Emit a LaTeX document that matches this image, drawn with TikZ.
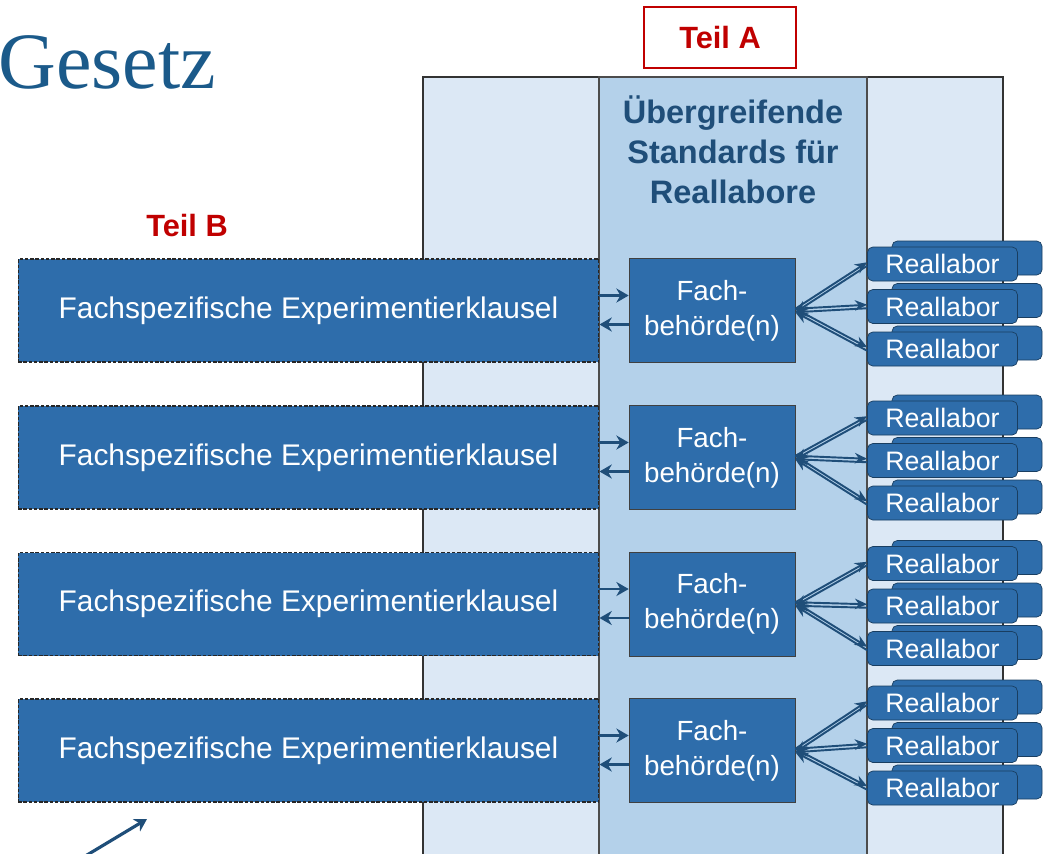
\documentclass[tikz,border=0pt]{standalone}
\usepackage{fontspec}
\setmainfont{Liberation Sans}
\newfontfamily\gesetzfont{Liberation Serif}
\usetikzlibrary{arrows.meta}

\definecolor{fachblau}{HTML}{2E6DAB}
\definecolor{dunkelblau}{HTML}{1F4E79}
\definecolor{titelblau}{HTML}{1B5A8A}
\definecolor{hellblau}{HTML}{DCE8F5}
\definecolor{mittelblau}{HTML}{B4D1EA}
\definecolor{teilrot}{HTML}{C00000}

\tikzset{
  klausel/.style={draw=black!85, dash pattern=on 2pt off 1pt, line width=0.6pt, fill=fachblau, text=white,
    minimum width=11.62cm, minimum height=2.06cm, font=\fontsize{17}{20}\selectfont},
  fach/.style={draw=black!75, fill=fachblau, text=white, align=center, minimum width=3.32cm,
    minimum height=2.08cm, font=\fontsize{15.8}{19.8}\selectfont},
  labor/.style={draw=dunkelblau!80!black, fill=fachblau, text=white, rounded corners=3pt,
    minimum width=3cm, minimum height=0.68cm, inner sep=0pt, font=\fontsize{15.2}{18}\selectfont},
  teil/.style={text=teilrot, font=\bfseries\fontsize{17.5}{20}\selectfont},
  pfeil/.style={draw=dunkelblau, line width=1.6pt, -{Stealth[length=7pt,width=8pt]}},
  link/.style={draw=dunkelblau, line width=1.1pt, -{Stealth[length=7pt,width=6pt]}}
}

\begin{document}
\begin{tikzpicture}[x=0.02cm, y=-0.02cm]
    \useasboundingbox (0,0) rectangle (1054,853);

    % Titel
    \node[anchor=base west, inner sep=0pt, text=titelblau, font=\gesetzfont\fontsize{45.5}{50}\selectfont]
      (gesetz) at (-2,88) {Gesetz};

    % Rahmen Teil A
    \filldraw[fill=hellblau, draw=black!80, line width=0.6pt] (423,77) rectangle (1003,860);
    \filldraw[fill=mittelblau, draw=black!70, line width=0.6pt] (599,77) rectangle (867,860);
    \node[draw=teilrot, fill=white, line width=0.6pt, minimum width=3.04cm, minimum height=1.22cm, teil]
      (teilA) at (720,37.5) {Teil A};
    \node[text=dunkelblau, align=center, font=\bfseries\fontsize{18.5}{22.7}\selectfont]
      (standards) at (733,150) {Übergreifende\\Standards für\\Reallabore};

    % Teil B
    \node[teil] (teilB) at (187,226) {Teil B};

    % Klauseln, Fachbehörden und Reallabore
    \foreach \i/\t/\r in {1/310.5/264, 2/457.5/418, 3/604/563.5, 4/750.5/703} {
      \node[klausel] (k\i) at (308.5,\t) {Fachspezifische Experimentierklausel};
      \node[fach] (f\i) at (712,\t) {Fach-\\behörde(n)};
      \draw[pfeil] ([yshift=0.3cm]k\i.east) -- ([yshift=0.3cm]f\i.west);
      \draw[pfeil] ([yshift=-0.28cm]f\i.west) -- ([yshift=-0.28cm]k\i.east);
      \foreach \j in {0,1,2} {
        \node[labor] (rb\i\j) at (967,\r+\j*42.5-6) {};
        \node[labor] (r\i\j) at (942.5,\r+\j*42.5) {Reallabor};
        \draw[link] ([yshift=0.035cm]f\i.east) -- ([yshift=0.035cm]r\i\j.west);
        \draw[link] ([yshift=-0.035cm]r\i\j.west) -- ([yshift=-0.035cm]f\i.east);
      }
    }

    % Pfeil unten links
    \coordinate (pfeilstart) at (82,858);
    \coordinate (pfeilende) at (147,819);
    \draw[pfeil, line width=1.8pt] (pfeilstart) -- (pfeilende);
\end{tikzpicture}
\end{document}
